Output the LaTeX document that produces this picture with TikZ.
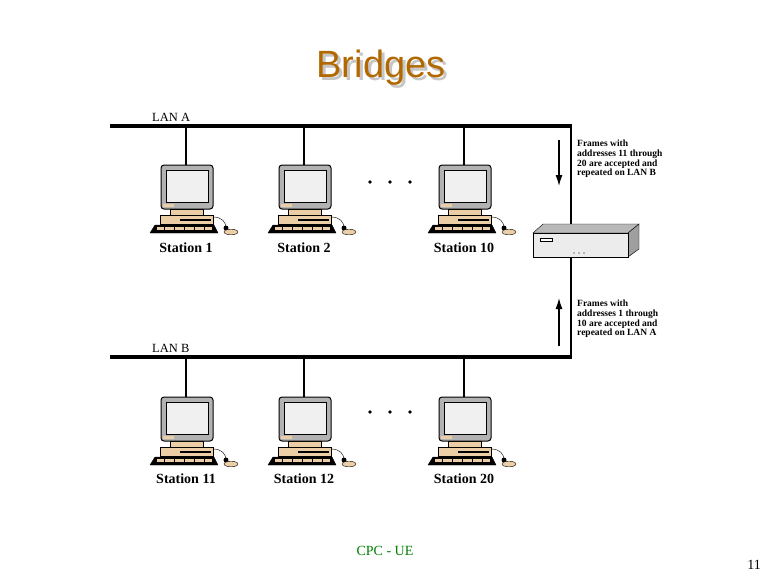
\documentclass[tikz,border=0pt]{standalone}
\usepackage{fontspec}
\setmainfont{Liberation Serif}
\newfontfamily\titlefont{Liberation Sans}
\usetikzlibrary{arrows.meta, calc}

\definecolor{titlebrown}{RGB}{178,104,0}
\definecolor{footgreen}{RGB}{0,128,0}
\definecolor{beige}{RGB}{236,206,166}

\tikzset{
  lan/.style={line width=3.6pt},
  tap/.style={line width=1.4pt},
  stationlbl/.style={font=\fontsize{14}{16}\selectfont\bfseries},
  lanlbl/.style={font=\fontsize{12.5}{14}\selectfont, anchor=base west, inner sep=0pt},
  note/.style={font=\fontsize{9.5}{9.7}\selectfont\bfseries, align=left, anchor=north west, inner sep=0pt},
  flowarrow/.style={line width=1.3pt, -{Latex[length=11pt,width=7pt]}},
  pics/computer/.style={code={
      % cpu box and monitor stand
      \draw[fill=beige] (-26,50) rectangle (27,61);
      \fill[black] (-6,54) rectangle (25,56);
      \fill[black] (-26,59) rectangle (27,61);
      \draw[fill=beige] (-16,44) rectangle (17,50);
      % monitor
      \draw[fill=gray!60, rounded corners=3pt, line width=1pt] (-25,0) rectangle (27,44);
      \draw[fill=gray!12] (-20,5) rectangle (22,37);
      \fill[beige] (-23,39) rectangle (-12,42);
      % keyboard
      \draw[fill=black] (-36,68) -- (-31,60) -- (28,60) -- (32,68) -- cycle;
      \fill[beige] (-29,62) rectangle (26,65);
      \foreach \k in {-22,-12,-2,8,18} \draw[black] (\k,62) -- (\k,65);
      % cable and mouse
      \draw (27,52) .. controls (36,52) and (40,57) .. (40,63);
      \fill[black] (40,63) circle (2.5);
      \draw[fill=beige] (45,67) ellipse (7 and 2.8);
  }}
}

\begin{document}
\begin{tikzpicture}[x=1pt, y=-1pt]
  \useasboundingbox (0,0) rectangle (768,576);

  % title with its shadow
  \node[font=\titlefont\fontsize{38}{40}\selectfont, text=gray!45] (titleshadow) at (384,71) {Bridges};
  \node[font=\titlefont\fontsize{38}{40}\selectfont, text=titlebrown] (title) at (381,68) {Bridges};

  % the two LANs
  \coordinate (lanAw) at (110,126);
  \coordinate (lanAe) at (572,126);
  \coordinate (lanBw) at (110,357);
  \coordinate (lanBe) at (572,357);
  \draw[lan] (lanAw) -- (lanAe);
  \draw[lan] (lanBw) -- (lanBe);
  \node[lanlbl] (lanAlbl) at (152,121) {LAN A};
  \node[lanlbl] (lanBlbl) at (152,352) {LAN B};

  % stations on LAN A
  \foreach \n/\x in {1/186, 2/304, 10/464} {
    \coordinate (st\n) at (\x,165);
    \draw[tap] (st\n) -- (st\n |- lanAw);
    \pic at (st\n) {computer};
    \node[stationlbl] (lbl\n) at (\x,248) {Station \n};
  }
  % stations on LAN B
  \foreach \n/\x in {11/186, 12/304, 20/464} {
    \coordinate (st\n) at (\x,397);
    \draw[tap] (st\n) -- (st\n |- lanBw);
    \pic at (st\n) {computer};
    \node[stationlbl] (lbl\n) at (\x,479) {Station \n};
  }

  % dots for the stations left out
  \foreach \x in {370,390,410} {
    \fill (\x,182) circle (1.8);
    \fill (\x,412) circle (1.8);
  }

  % bridge between LAN A and LAN B
  \coordinate (brTop) at (571,126);
  \coordinate (brBot) at (571,357);
  \draw[line width=2pt] (brTop) -- (brBot);
  \coordinate (bridge) at (533,233);
  \draw[fill=gray!55] (bridge) -- ++(10,-9) -- ++(96,0) -- ++(-11,9) -- cycle;
  \draw[fill=gray!75] ($(bridge)+(95,0)$) -- ++(11,-9) -- ++(0,25) -- ++(-11,8) -- cycle;
  \draw[fill=gray!15] (bridge) rectangle ++(95,24);
  \draw[fill=white] ($(bridge)+(7,5)$) rectangle ++(12,3);
  \foreach \d in {41,46,51} \fill ($(bridge)+(\d,20)$) circle (0.7);

  % traffic through the bridge
  \coordinate (arrAs) at (559,140);
  \coordinate (arrAe) at (559,186);
  \coordinate (arrBs) at (559,346);
  \coordinate (arrBe) at (559,298);
  \draw[flowarrow] (arrAs) -- (arrAe);
  \draw[flowarrow] (arrBs) -- (arrBe);
  \node[note] (noteA) at (577,140) {Frames with\\addresses 11 through\\20 are accepted and\\repeated on LAN B};
  \node[note] (noteB) at (577,300) {Frames with\\addresses 1 through\\10 are accepted and\\repeated on LAN A};

  % footer
  \node[font=\fontsize{14}{16}\selectfont, text=footgreen] (footer) at (385,551) {CPC - UE};
  \node[font=\fontsize{14}{16}\selectfont] (pageno) at (754,565) {11};
\end{tikzpicture}
\end{document}
